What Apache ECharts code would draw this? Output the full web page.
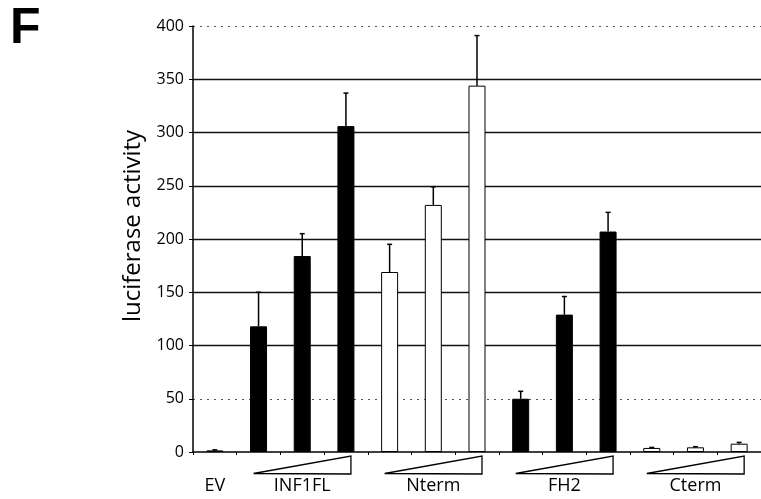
<!DOCTYPE html>
<html>
<head>
<meta charset="utf-8">
<script src="https://cdn.jsdelivr.net/npm/echarts@6/dist/echarts.min.js"></script>
<style>html,body{margin:0;padding:0;background:#fff;}#c{width:761px;height:499px;}</style>
</head>
<body>
<div id="c"></div>
<script>
// ---- data ----
var categories = ['EV', 'INF1FL-1', 'INF1FL-2', 'INF1FL-3', 'Nterm-1', 'Nterm-2', 'Nterm-3',
                  'FH2-1', 'FH2-2', 'FH2-3', 'Cterm-1', 'Cterm-2', 'Cterm-3'];
var groupNames = ['EV', 'INF1FL', 'Nterm', 'FH2', 'Cterm'];
var groupOf = [0, 1, 1, 1, 2, 2, 2, 3, 3, 3, 4, 4, 4];
var groupFilled = [false, true, false, true, false];
var values   = [1.5, 118, 184, 306, 169, 232, 344, 50, 129, 207, 3.8, 4.4, 7.8];
var errorTop = [2, 150, 205, 337, 195, 249, 391, 57, 146, 225, 4.3, 5, 9];
var yTicks = [0, 50, 100, 150, 200, 250, 300, 350, 400];
var solidGrid = [100, 150, 200, 250, 300, 350];
var dottedGrid = [50, 400];
// wedge groups: first and last category index of each dose series
var wedgeStart = [1, 4, 7, 10];
var wedgeEnd = [3, 6, 9, 12];

// ---- derived ----
var labelByIndex = categories.map(function (c, i) {
  var g = groupOf[i];
  var idxs = [];
  groupOf.forEach(function (gg, j) { if (gg === g) idxs.push(j); });
  return idxs[Math.floor(idxs.length / 2)] === i ? groupNames[g] : '';
});
var solidColors = yTicks.map(function (v) { return solidGrid.indexOf(v) >= 0 ? '#111' : 'rgba(0,0,0,0)'; });
var dottedColors = yTicks.map(function (v) { return dottedGrid.indexOf(v) >= 0 ? '#555' : 'rgba(0,0,0,0)'; });

var FONT = 'Open Sans';
var chart = echarts.init(document.getElementById('c'), null, {renderer: 'canvas'});
chart.setOption({
  animation: false,
  backgroundColor: '#fff',
  grid: {left: 193, right: -8, top: 26, bottom: 47, containLabel: false},
  graphic: [
    {type: 'text', left: 10, top: 4, style: {text: 'F', font: 'bold 50px "Liberation Sans"', fill: '#000'}},
    {type: 'text', x: 133, y: 226, rotation: Math.PI / 2,
     style: {text: 'luciferase activity', font: '24px "' + FONT + '"', fill: '#000', align: 'center', verticalAlign: 'middle'}}
  ],
  xAxis: {
    type: 'category',
    data: categories,
    axisLine: {lineStyle: {color: '#000', width: 1.5}},
    axisTick: {show: true, length: 3, lineStyle: {color: '#000'}},
    axisLabel: {interval: 0, margin: 25, fontSize: 18, fontFamily: FONT, color: '#000',
      formatter: function (v, i) { return labelByIndex[i]; }},
    splitLine: {show: false}
  },
  yAxis: [{
    type: 'value', min: 0, max: 400, interval: 50,
    axisLine: {show: true, lineStyle: {color: '#000', width: 1.5}},
    axisTick: {show: true, length: 4, lineStyle: {color: '#000'}},
    axisLabel: {margin: 9, fontSize: 16, fontFamily: FONT, color: '#000'},
    splitLine: {show: true, showMinLine: true, showMaxLine: true, lineStyle: {color: solidColors, width: 1.4}}
  }, {
    type: 'value', min: 0, max: 400, interval: 50, position: 'left',
    axisLine: {show: false}, axisTick: {show: false}, axisLabel: {show: false},
    splitLine: {show: true, showMinLine: true, showMaxLine: true, lineStyle: {color: dottedColors, width: 1, type: [2, 5]}}
  }],
  series: [{
    type: 'bar',
    data: values,
    barWidth: 17,
    z: 3,
    itemStyle: {
      borderColor: '#000', borderWidth: 1,
      color: function (p) { return groupFilled[groupOf[p.dataIndex]] ? '#000' : '#fff'; }
    }
  }, {
    type: 'custom',
    z: 4,
    silent: true,
    data: values.map(function (v, i) { return [i, v, errorTop[i]]; }),
    renderItem: function (params, api) {
      var i = api.value(0);
      var p0 = api.coord([i, api.value(1)]);
      var p1 = api.coord([i, api.value(2)]);
      return {type: 'group', children: [
        {type: 'line', shape: {x1: p0[0], y1: p0[1], x2: p1[0], y2: p1[1]}, style: {stroke: '#000', lineWidth: 1.5}},
        {type: 'line', shape: {x1: p1[0] - 2.5, y1: p1[1], x2: p1[0] + 2.5, y2: p1[1]}, style: {stroke: '#000', lineWidth: 1.5}}
      ]};
    }
  }, {
    type: 'custom',
    z: 4,
    silent: true,
    clip: false,
    data: wedgeStart.map(function (s, k) { return [s, wedgeEnd[k]]; }),
    renderItem: function (params, api) {
      var a = api.coord([api.value(0), 0]);
      var b = api.coord([api.value(1), 0]);
      var x0 = a[0] - 5, x1 = b[0] + 5, y = a[1];
      return {type: 'polygon', shape: {points: [[x0, y + 21.5], [x1, y + 4], [x1, y + 22]]},
        style: {fill: '#fff', stroke: '#000', lineWidth: 1.3}};
    }
  }]
});
</script>
</body>
</html>
